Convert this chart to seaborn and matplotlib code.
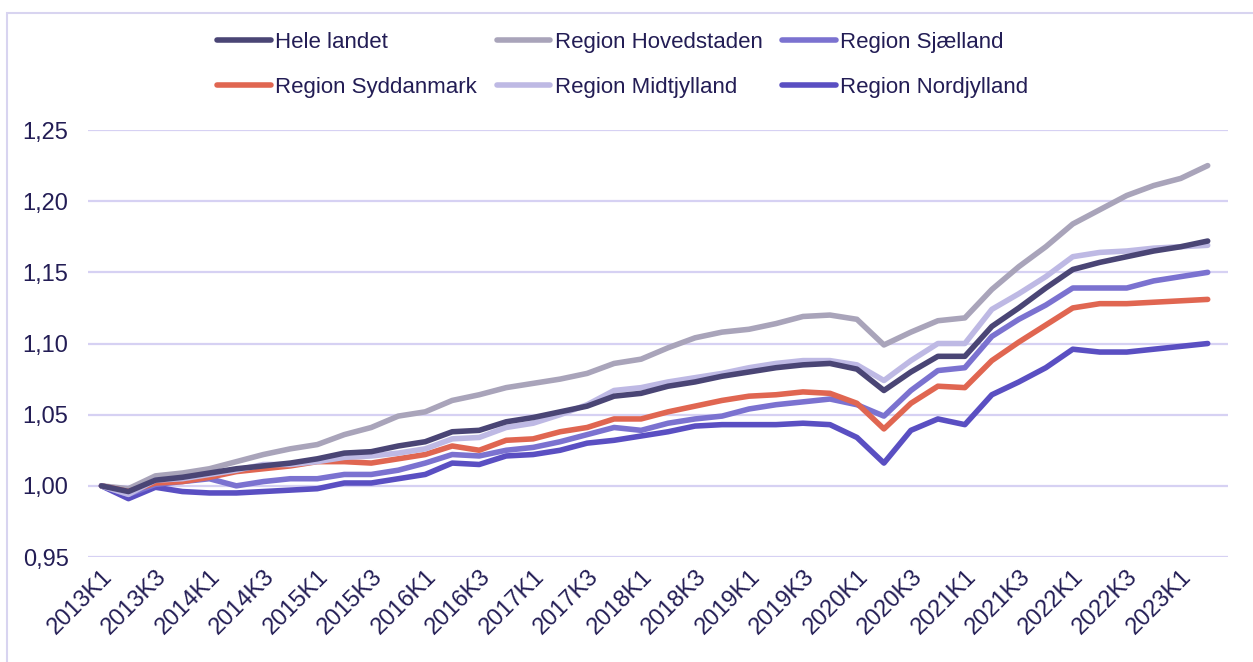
import pandas as pd
import matplotlib
matplotlib.use('Agg')
import matplotlib.pyplot as plt
import seaborn as sns
from matplotlib.patches import Rectangle

# Quarters 2013K1 .. 2023K2
quarters = [f'{y}K{q}' for y in range(2013, 2024) for q in range(1, 5)][:42]

hele_landet = [1.000, 0.996, 1.004, 1.006, 1.009, 1.012, 1.014, 1.016, 1.019, 1.023,
               1.024, 1.028, 1.031, 1.038, 1.039, 1.045, 1.048, 1.052, 1.056, 1.063,
               1.065, 1.070, 1.073, 1.077, 1.080, 1.083, 1.085, 1.086, 1.082, 1.067,
               1.080, 1.091, 1.091, 1.112, 1.125, 1.139, 1.152, 1.157, 1.161, 1.165,
               1.168, 1.172]
hovedstaden = [1.000, 0.998, 1.007, 1.009, 1.012, 1.017, 1.022, 1.026, 1.029, 1.036,
               1.041, 1.049, 1.052, 1.060, 1.064, 1.069, 1.072, 1.075, 1.079, 1.086,
               1.089, 1.097, 1.104, 1.108, 1.110, 1.114, 1.119, 1.120, 1.117, 1.099,
               1.108, 1.116, 1.118, 1.138, 1.154, 1.168, 1.184, 1.194, 1.204, 1.211,
               1.216, 1.225]
sjaelland = [1.000, 0.994, 1.001, 1.003, 1.005, 1.000, 1.003, 1.005, 1.005, 1.008,
             1.008, 1.011, 1.016, 1.022, 1.021, 1.025, 1.027, 1.031, 1.036, 1.041,
             1.039, 1.044, 1.047, 1.049, 1.054, 1.057, 1.059, 1.061, 1.057, 1.049,
             1.067, 1.081, 1.083, 1.105, 1.117, 1.127, 1.139, 1.139, 1.139, 1.144,
             1.147, 1.150]
syddanmark = [1.000, 0.996, 1.002, 1.003, 1.006, 1.010, 1.012, 1.014, 1.017, 1.017,
              1.016, 1.019, 1.022, 1.028, 1.025, 1.032, 1.033, 1.038, 1.041, 1.047,
              1.047, 1.052, 1.056, 1.060, 1.063, 1.064, 1.066, 1.065, 1.058, 1.040,
              1.058, 1.070, 1.069, 1.088, 1.101, 1.113, 1.125, 1.128, 1.128, 1.129,
              1.130, 1.131]
midtjylland = [1.000, 0.994, 1.004, 1.005, 1.008, 1.011, 1.015, 1.015, 1.017, 1.020,
               1.021, 1.023, 1.026, 1.033, 1.034, 1.041, 1.044, 1.050, 1.057, 1.067,
               1.069, 1.073, 1.076, 1.079, 1.083, 1.086, 1.088, 1.088, 1.085, 1.074,
               1.088, 1.100, 1.100, 1.124, 1.135, 1.147, 1.161, 1.164, 1.165, 1.167,
               1.168, 1.169]
nordjylland = [1.000, 0.991, 0.999, 0.996, 0.995, 0.995, 0.996, 0.997, 0.998, 1.002,
               1.002, 1.005, 1.008, 1.016, 1.015, 1.021, 1.022, 1.025, 1.030, 1.032,
               1.035, 1.038, 1.042, 1.043, 1.043, 1.043, 1.044, 1.043, 1.034, 1.016,
               1.039, 1.047, 1.043, 1.064, 1.073, 1.083, 1.096, 1.094, 1.094, 1.096,
               1.098, 1.100]

series = {
    'Hele landet': hele_landet,
    'Region Hovedstaden': hovedstaden,
    'Region Sjælland': sjaelland,
    'Region Syddanmark': syddanmark,
    'Region Midtjylland': midtjylland,
    'Region Nordjylland': nordjylland,
}
colors = {
    'Hele landet': '#4A4575',
    'Region Hovedstaden': '#A9A4BA',
    'Region Sjælland': '#7B72D0',
    'Region Syddanmark': '#E06651',
    'Region Midtjylland': '#BEB9E4',
    'Region Nordjylland': '#5A4FC2',
}
text_color = '#231D55'
grid_color = '#D6D1F3'

# long format for seaborn
rows = []
for name, vals in series.items():
    for i, v in enumerate(vals):
        rows.append({'idx': i, 'value': v, 'region': name})
df = pd.DataFrame(rows)

sns.set_style('white')
plt.rcParams['font.family'] = ['Liberation Sans', 'DejaVu Sans']

fig = plt.figure(figsize=(12.53, 6.62), dpi=100)
ax = fig.add_axes([0.0702, 0.1586, 0.9098, 0.645])

# draw order: Midtjylland under Hele landet like the reference
draw_order = ['Region Hovedstaden', 'Region Nordjylland', 'Region Sjælland',
              'Region Syddanmark', 'Region Midtjylland', 'Hele landet']
for name in draw_order:
    sns.lineplot(data=df[df['region'] == name], x='idx', y='value', color=colors[name],
                 linewidth=4.0, ax=ax, label=name, solid_capstyle='round',
                 solid_joinstyle='round')

ax.set_xlim(-0.5, 41.75)
ax.set_ylim(0.95, 1.25)
yt = [0.95, 1.00, 1.05, 1.10, 1.15, 1.20, 1.25]
ax.set_yticks(yt)
ax.set_yticklabels([f'{v:.2f}'.replace('.', ',') for v in yt], color=text_color, fontsize=17)
xt = list(range(0, 42, 2))
ax.set_xticks(xt)
ax.set_xticklabels([quarters[i] for i in xt], rotation=45, ha='right',
                   rotation_mode='anchor', color=text_color, fontsize=17)
ax.tick_params(axis='both', length=0, pad=6)
ax.tick_params(axis='y', pad=14)
ax.set_xlabel('')
ax.set_ylabel('')
ax.grid(axis='y', color=grid_color, linewidth=1.6)
ax.set_axisbelow(True)
for s in ax.spines.values():
    s.set_visible(False)

# legend: row-wise order, 3 columns
handles, labels = ax.get_legend_handles_labels()
hmap = dict(zip(labels, handles))
order = ['Hele landet', 'Region Syddanmark', 'Region Hovedstaden',
         'Region Midtjylland', 'Region Sjælland', 'Region Nordjylland']
leg = fig.legend([hmap[n] for n in order], order, ncol=3, loc='center',
                 bbox_to_anchor=(0.497, 0.902), frameon=False, fontsize=16,
                 handlelength=2.4, handletextpad=0.2, columnspacing=0.9,
                 labelspacing=1.1, labelcolor=text_color)
ax.get_legend().remove()

# outer frame like the source document
fig.patches.append(Rectangle((0.0056, -0.05), 1.2, 1.03, transform=fig.transFigure,
                             fill=False, edgecolor='#D8D4F0', linewidth=1.5))

fig.savefig('out.png', dpi=100, facecolor='white')
